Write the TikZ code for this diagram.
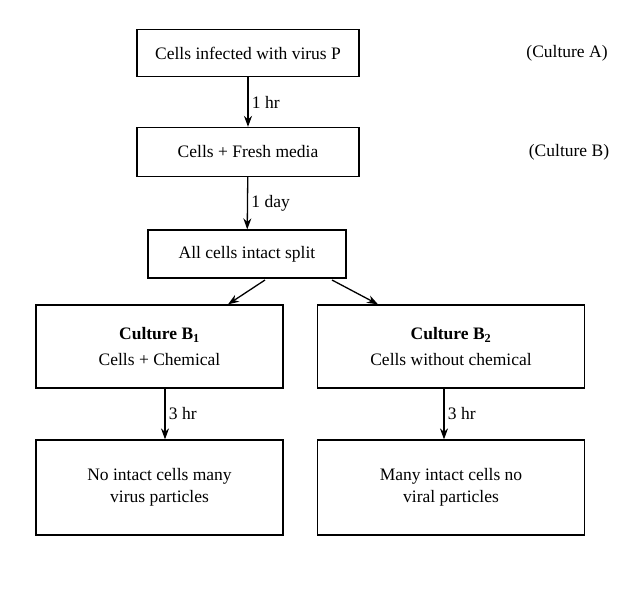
\documentclass[tikz,border=0pt]{standalone}
\usepackage{fontspec}
\setmainfont{Liberation Serif}
\usetikzlibrary{arrows.meta}
\begin{document}
\begin{tikzpicture}[x=1pt,y=-1pt,-{Stealth[length=11pt,width=8pt]},line width=1.3pt,
                    font=\fontsize{17.5}{22}\selectfont]
  \tikzset{box/.style={draw,-,line width=1.3pt,align=center,inner sep=0pt}}
  \useasboundingbox (0,0) rectangle (643,598);

  \node[box,minimum width=222,minimum height=47] (A) at (248,53) {Cells infected with virus P};
  \node[box,minimum width=222,minimum height=49] (B) at (248,152) {Cells + Fresh media};
  \node[box,minimum width=198,minimum height=48] (C) at (247,254) {All cells intact split};
  \node[box,minimum width=247,minimum height=83] (B1) at (159.5,346.5)
       {\textbf{Culture B\textsubscript{1}}\\[4pt] Cells + Chemical};
  \node[box,minimum width=267,minimum height=83] (B2) at (451,346.5)
       {\textbf{Culture B\textsubscript{2}}\\[4pt] Cells without chemical};
  \node[box,minimum width=247,minimum height=95] (R1) at (159.5,487.5)
       {No intact cells many\\ virus particles};
  \node[box,minimum width=267,minimum height=95] (R2) at (451,487.5)
       {Many intact cells no\\ viral particles};
  \node (cA) at (567,53) {(Culture A)};
  \node (cB) at (569,152) {(Culture B)};

  \coordinate (C1) at (265,280);
  \coordinate (C2) at (332,280);
  \draw (A) -- node[right] {1 hr} (B);
  \draw (B) -- node[right] {1 day} (C);
  \draw (C1) -- (B1.north -| 228,0);
  \draw (C2) -- (B2.north -| 378,0);
  \draw (B1.south -| 165,0) -- node[right] {3 hr} (R1.north -| 165,0);
  \draw (B2.south -| 444,0) -- node[right] {3 hr} (R2.north -| 444,0);
\end{tikzpicture}
\end{document}
